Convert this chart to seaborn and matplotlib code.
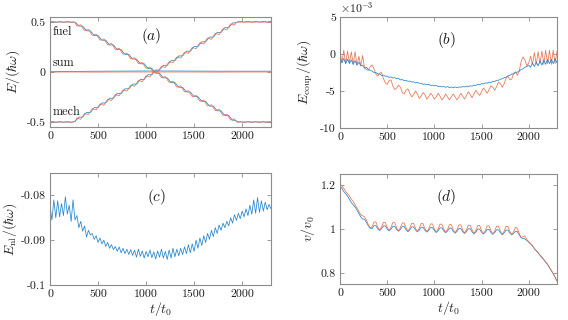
"""Four-panel energy / velocity figure, redrawn with seaborn."""
import matplotlib
matplotlib.use("Agg")
import numpy as np
import matplotlib.pyplot as plt
import seaborn as sns

# ---------------------------------------------------------------- data
t_grid = [
    0, 20, 40, 60, 80, 100, 120, 140, 160, 180,
    200, 220, 240, 260, 280, 300, 320, 340, 360, 380,
    400, 420, 440, 460, 480, 500, 520, 540, 560, 580,
    600, 620, 640, 660, 680, 700, 720, 740, 760, 780,
    800, 820, 840, 860, 880, 900, 920, 940, 960, 980,
    1000, 1020, 1040, 1060, 1080, 1100, 1120, 1140, 1160, 1180,
    1200, 1220, 1240, 1260, 1280, 1300, 1320, 1340, 1360, 1380,
    1400, 1420, 1440, 1460, 1480, 1500, 1520, 1540, 1560, 1580,
    1600, 1620, 1640, 1660, 1680, 1700, 1720, 1740, 1760, 1780,
    1800, 1820, 1840, 1860, 1880, 1900, 1920, 1940, 1960, 1980,
    2000, 2020, 2040, 2060, 2080, 2100, 2120, 2140, 2160, 2180,
    2200, 2220, 2240, 2260, 2280, 2300,
]

# (a) fuel / mech energies, blue and orange runs
fuel_blue = [
    0.500, 0.503, 0.500, 0.497, 0.500, 0.503, 0.500, 0.497, 0.500, 0.503,
    0.500, 0.497, 0.499, 0.498, 0.482, 0.459, 0.459, 0.459, 0.435, 0.412,
    0.412, 0.412, 0.388, 0.364, 0.365, 0.365, 0.341, 0.317, 0.318, 0.318,
    0.294, 0.270, 0.271, 0.271, 0.247, 0.223, 0.224, 0.224, 0.200, 0.176,
    0.176, 0.177, 0.153, 0.129, 0.129, 0.130, 0.106, 0.082, 0.082, 0.083,
    0.059, 0.035, 0.035, 0.036, 0.012, -0.012, -0.012, -0.012, -0.035, -0.059,
    -0.059, -0.059, -0.082, -0.106, -0.106, -0.106, -0.129, -0.153, -0.153, -0.153,
    -0.176, -0.200, -0.200, -0.200, -0.224, -0.247, -0.247, -0.247, -0.271, -0.294,
    -0.294, -0.294, -0.318, -0.341, -0.341, -0.341, -0.365, -0.388, -0.388, -0.388,
    -0.412, -0.436, -0.435, -0.435, -0.459, -0.483, -0.482, -0.490, -0.500, -0.497,
    -0.500, -0.503, -0.500, -0.497, -0.500, -0.503, -0.500, -0.497, -0.500, -0.503,
    -0.500, -0.497, -0.500, -0.503, -0.500, -0.497,
]
fuel_orange = [
    0.500, 0.498, 0.503, 0.499, 0.500, 0.498, 0.503, 0.499, 0.500, 0.498,
    0.503, 0.499, 0.500, 0.496, 0.460, 0.467, 0.473, 0.443, 0.413, 0.420,
    0.426, 0.396, 0.366, 0.372, 0.379, 0.349, 0.319, 0.325, 0.332, 0.302,
    0.272, 0.278, 0.285, 0.255, 0.225, 0.231, 0.238, 0.208, 0.178, 0.184,
    0.190, 0.161, 0.131, 0.137, 0.143, 0.114, 0.084, 0.090, 0.096, 0.067,
    0.037, 0.043, 0.049, 0.020, -0.010, -0.004, 0.002, -0.028, -0.057, -0.051,
    -0.045, -0.075, -0.104, -0.098, -0.092, -0.122, -0.151, -0.145, -0.139, -0.169,
    -0.198, -0.192, -0.186, -0.216, -0.246, -0.239, -0.233, -0.263, -0.293, -0.286,
    -0.280, -0.310, -0.340, -0.333, -0.327, -0.357, -0.387, -0.380, -0.374, -0.404,
    -0.434, -0.428, -0.421, -0.451, -0.481, -0.475, -0.468, -0.498, -0.502, -0.498,
    -0.503, -0.497, -0.502, -0.498, -0.503, -0.497, -0.502, -0.498, -0.503, -0.497,
    -0.502, -0.498, -0.503, -0.497, -0.502, -0.498,
]
mech_blue = [
    -0.500, -0.497, -0.500, -0.503, -0.500, -0.497, -0.500, -0.503, -0.500, -0.497,
    -0.500, -0.503, -0.499, -0.496, -0.474, -0.451, -0.451, -0.451, -0.427, -0.404,
    -0.404, -0.404, -0.380, -0.356, -0.357, -0.357, -0.333, -0.309, -0.310, -0.310,
    -0.286, -0.262, -0.263, -0.263, -0.239, -0.215, -0.216, -0.216, -0.192, -0.168,
    -0.168, -0.169, -0.145, -0.121, -0.121, -0.122, -0.098, -0.074, -0.074, -0.075,
    -0.051, -0.027, -0.027, -0.028, -0.004, 0.020, 0.020, 0.020, 0.043, 0.067,
    0.067, 0.067, 0.090, 0.114, 0.114, 0.114, 0.137, 0.161, 0.161, 0.161,
    0.184, 0.208, 0.208, 0.208, 0.232, 0.255, 0.255, 0.255, 0.279, 0.302,
    0.302, 0.302, 0.326, 0.349, 0.349, 0.349, 0.373, 0.396, 0.396, 0.396,
    0.420, 0.444, 0.443, 0.443, 0.467, 0.491, 0.490, 0.495, 0.502, 0.505,
    0.502, 0.499, 0.502, 0.505, 0.502, 0.499, 0.502, 0.505, 0.502, 0.499,
    0.502, 0.505, 0.502, 0.499, 0.502, 0.505,
]
mech_orange = [
    -0.500, -0.503, -0.498, -0.502, -0.500, -0.503, -0.498, -0.502, -0.500, -0.503,
    -0.498, -0.502, -0.500, -0.496, -0.460, -0.467, -0.473, -0.443, -0.413, -0.420,
    -0.426, -0.396, -0.366, -0.372, -0.379, -0.349, -0.319, -0.325, -0.332, -0.302,
    -0.272, -0.278, -0.285, -0.255, -0.225, -0.231, -0.238, -0.208, -0.178, -0.184,
    -0.190, -0.161, -0.131, -0.137, -0.143, -0.114, -0.084, -0.090, -0.096, -0.067,
    -0.037, -0.043, -0.049, -0.020, 0.010, 0.004, -0.002, 0.028, 0.057, 0.051,
    0.045, 0.075, 0.104, 0.098, 0.092, 0.122, 0.151, 0.145, 0.139, 0.169,
    0.198, 0.192, 0.186, 0.216, 0.246, 0.239, 0.233, 0.263, 0.293, 0.286,
    0.280, 0.310, 0.340, 0.333, 0.327, 0.357, 0.387, 0.380, 0.374, 0.404,
    0.434, 0.428, 0.421, 0.451, 0.481, 0.475, 0.468, 0.498, 0.500, 0.498,
    0.502, 0.497, 0.501, 0.498, 0.502, 0.497, 0.501, 0.498, 0.502, 0.497,
    0.501, 0.498, 0.502, 0.497, 0.501, 0.498,
]
sum_t = [0, 250, 500, 750, 1000, 1250, 1500, 1750, 2000, 2300]
sum_blue = [0.002, 0.006, 0.008, 0.009, 0.010, 0.010, 0.009, 0.008, 0.008, 0.008]
sum_orange = [0.000, 0.000, -0.001, 0.000, 0.000, 0.000, 0.000, -0.001, 0.000, 0.000]

# (b) coupling energy, in units of 1e-3
coup_blue = [
    -0.5, -1.2, -0.6, -1.3, -0.7, -1.3, -0.8, -1.4, -0.9, -1.5,
    -1.1, -1.6, -1.5, -1.9, -1.8, -2.1, -2.2, -2.3, -2.5, -2.5,
    -2.7, -2.7, -2.9, -2.85, -3.0, -3.0, -3.15, -3.1, -3.25, -3.2,
    -3.35, -3.3, -3.5, -3.45, -3.6, -3.55, -3.7, -3.65, -3.8, -3.75,
    -3.9, -3.85, -3.95, -3.95, -4.1, -4.05, -4.15, -4.1, -4.25, -4.2,
    -4.3, -4.25, -4.4, -4.35, -4.45, -4.4, -4.5, -4.4, -4.55, -4.45,
    -4.55, -4.45, -4.55, -4.45, -4.5, -4.4, -4.45, -4.35, -4.4, -4.3,
    -4.35, -4.2, -4.25, -4.1, -4.15, -4.0, -4.05, -3.9, -3.95, -3.8,
    -3.85, -3.7, -3.7, -3.55, -3.55, -3.4, -3.35, -3.2, -3.15, -2.95,
    -2.9, -2.7, -2.7, -2.5, -2.45, -2.3, -2.1, -2.0, -1.8, -1.7,
    -1.5, -1.8, -1.2, -1.7, -1.1, -1.6, -0.9, -1.5, -0.8, -1.4,
    -0.7, -1.3, -0.7, -1.3, -0.6, -1.2,
]
coup_orange = [
    0.4, -1.2, 0.5, -1.3, 0.4, -1.2, 0.3, -1.4, 0.3, -1.5,
    -0.3, -1.6, -0.2, -1.9, -2.1, -2.2, -1.7, -1.5, -2.0, -2.7,
    -3.0, -2.6, -2.5, -3.3, -3.9, -4.1, -3.6, -3.5, -4.3, -4.8,
    -4.6, -4.2, -4.5, -5.2, -5.4, -4.9, -4.7, -5.3, -5.8, -5.5,
    -5.0, -5.4, -6.0, -5.7, -5.2, -5.5, -6.1, -5.8, -5.3, -5.6,
    -6.1, -5.8, -5.3, -5.7, -6.2, -5.9, -5.4, -5.8, -6.2, -5.8,
    -5.4, -5.8, -6.2, -5.8, -5.3, -5.7, -6.1, -5.6, -5.1, -5.5,
    -5.9, -5.4, -4.9, -5.3, -5.6, -5.1, -4.6, -4.9, -5.3, -4.8,
    -4.3, -4.5, -4.9, -4.4, -3.8, -4.0, -4.5, -4.0, -3.3, -3.0,
    -3.5, -3.4, -2.6, -2.4, -2.9, -2.3, -1.0, -0.4, -0.8, -1.6,
    -1.2, -0.3, -1.4, 0.2, -1.4, 0.3, -1.3, 0.4, -1.4, 0.5,
    -1.3, 0.5, -1.4, 0.5, -1.3, 0.4,
]

# (c) nonlinear energy
nl_blue = [
    -0.0825, -0.0855, -0.0810, -0.0850, -0.0812, -0.0848, -0.0818, -0.0845, -0.0803, -0.0842,
    -0.0822, -0.0858, -0.0810, -0.0855, -0.0845, -0.0872, -0.0858, -0.0880, -0.0868, -0.0893,
    -0.0878, -0.0888, -0.0885, -0.0898, -0.0890, -0.0905, -0.0895, -0.0908, -0.0900, -0.0914,
    -0.0905, -0.0918, -0.0910, -0.0921, -0.0914, -0.0925, -0.0915, -0.0928, -0.0918, -0.0930,
    -0.0920, -0.0932, -0.0921, -0.0934, -0.0922, -0.0938, -0.0920, -0.0936, -0.0924, -0.0940,
    -0.0925, -0.0937, -0.0922, -0.0939, -0.0926, -0.0942, -0.0924, -0.0938, -0.0920, -0.0940,
    -0.0925, -0.0943, -0.0922, -0.0940, -0.0918, -0.0937, -0.0920, -0.0935, -0.0918, -0.0932,
    -0.0915, -0.0930, -0.0910, -0.0928, -0.0908, -0.0925, -0.0900, -0.0918, -0.0895, -0.0912,
    -0.0890, -0.0905, -0.0885, -0.0898, -0.0878, -0.0892, -0.0872, -0.0885, -0.0866, -0.0878,
    -0.0862, -0.0872, -0.0858, -0.0868, -0.0850, -0.0862, -0.0843, -0.0856, -0.0840, -0.0852,
    -0.0835, -0.0848, -0.0830, -0.0845, -0.0822, -0.0842, -0.0810, -0.0840, -0.0805, -0.0838,
    -0.0812, -0.0835, -0.0815, -0.0832, -0.0820, -0.0830,
]

# (d) velocity
vel_blue = [
    1.195, 1.185, 1.170, 1.160, 1.150, 1.135, 1.120, 1.110, 1.100, 1.085,
    1.070, 1.055, 1.045, 1.045, 1.030, 1.015, 1.003, 1.002, 1.015, 1.015,
    1.001, 0.993, 1.001, 1.014, 1.014, 1.000, 0.991, 0.999, 1.012, 1.012,
    0.998, 0.990, 0.998, 1.011, 1.011, 0.997, 0.988, 0.996, 1.010, 1.009,
    0.996, 0.987, 0.995, 1.008, 1.008, 0.994, 0.986, 0.994, 1.007, 1.006,
    0.993, 0.984, 0.992, 1.005, 1.005, 0.991, 0.983, 0.991, 1.004, 1.004,
    0.990, 0.981, 0.989, 1.002, 1.002, 0.988, 0.980, 0.988, 1.001, 1.001,
    0.987, 0.978, 0.986, 1.000, 0.999, 0.986, 0.977, 0.985, 0.998, 0.998,
    0.984, 0.976, 0.984, 0.997, 0.996, 0.983, 0.974, 0.982, 0.995, 0.995,
    0.981, 0.973, 0.980, 0.990, 0.988, 0.972, 0.960, 0.957, 0.955, 0.948,
    0.940, 0.932, 0.923, 0.910, 0.901, 0.891, 0.880, 0.870, 0.860, 0.849,
    0.838, 0.824, 0.810, 0.796, 0.780, 0.762,
]
vel_orange = [
    1.205, 1.195, 1.185, 1.170, 1.160, 1.150, 1.135, 1.125, 1.110, 1.095,
    1.080, 1.065, 1.060, 1.055, 1.040, 1.020, 1.005, 1.010, 1.032, 1.032,
    1.009, 0.995, 1.009, 1.030, 1.030, 1.007, 0.993, 1.007, 1.029, 1.029,
    1.006, 0.992, 1.005, 1.028, 1.027, 1.005, 0.990, 1.004, 1.026, 1.026,
    1.003, 0.989, 1.002, 1.025, 1.024, 1.002, 0.988, 1.001, 1.023, 1.023,
    1.000, 0.986, 1.000, 1.022, 1.022, 0.999, 0.985, 0.998, 1.020, 1.020,
    0.997, 0.983, 0.997, 1.019, 1.019, 0.996, 0.982, 0.995, 1.018, 1.017,
    0.995, 0.980, 0.994, 1.016, 1.016, 0.993, 0.979, 0.992, 1.015, 1.014,
    0.992, 0.978, 0.991, 1.013, 1.013, 0.990, 0.976, 0.990, 1.012, 1.011,
    0.989, 0.975, 0.988, 1.008, 1.002, 0.980, 0.962, 0.965, 0.968, 0.952,
    0.943, 0.934, 0.925, 0.912, 0.903, 0.893, 0.882, 0.872, 0.862, 0.851,
    0.840, 0.826, 0.812, 0.798, 0.782, 0.764,
]

x_ticks = [0, 500, 1000, 1500, 2000]

# ---------------------------------------------------------------- style
sns.set_theme(style="white")
plt.rcParams.update({
    "font.family": ["cmr10", "DejaVu Serif"],
    "mathtext.fontset": "cm",
    "axes.unicode_minus": False,
    "axes.formatter.use_mathtext": False,
    "axes.edgecolor": "#8c8c8c",
    "axes.linewidth": 0.8,
    "text.color": "#1a1a1a",
    "xtick.color": "#8c8c8c",
    "ytick.color": "#8c8c8c",
    "xtick.labelcolor": "#1a1a1a",
    "ytick.labelcolor": "#1a1a1a",
})

BLUE = "#2485d0"
ORANGE = "#e8734f"
LW = 0.55

W, H = 568, 320
fig = plt.figure(figsize=(W / 100, H / 100), dpi=100)


def px_axes(left, top, right, bottom):
    return fig.add_axes([left / W, 1 - bottom / H, (right - left) / W, (bottom - top) / H])


def line(ax, x, y, color):
    sns.lineplot(x=x, y=y, ax=ax, color=color, linewidth=LW, errorbar=None)


def style(ax, ylim, yticks, ylabels):
    ax.set_xlim(0, 2300)
    ax.set_ylim(*ylim)
    ax.set_xticks(x_ticks, labels=[str(v) for v in x_ticks])
    ax.set_yticks(yticks, labels=ylabels)
    ax.tick_params(direction="in", length=3, width=0.6, top=True, right=True,
                   bottom=True, left=True, labelsize=8.5, pad=3)
    for s in ax.spines.values():
        s.set_visible(True)


ax_a = px_axes(50, 17, 271, 127)
ax_b = px_axes(340, 17, 557, 128)
ax_c = px_axes(50, 173, 271, 285)
ax_d = px_axes(340, 174, 557, 284)

# (a)
line(ax_a, t_grid, fuel_blue, BLUE)
line(ax_a, t_grid, mech_blue, BLUE)
line(ax_a, sum_t, sum_blue, BLUE)
line(ax_a, t_grid, fuel_orange, ORANGE)
line(ax_a, t_grid, mech_orange, ORANGE)
line(ax_a, sum_t, sum_orange, ORANGE)
style(ax_a, (-0.55, 0.55), [-0.5, 0, 0.5], ["-0.5", "0", "0.5"])
ax_a.set_ylabel(r"$E/(\hbar\omega)$", fontsize=10)
ax_a.yaxis.set_label_coords(-0.125, 0.5)
for txt, yv in [("fuel", 0.40), ("sum", 0.095), ("mech", -0.40)]:
    ax_a.text(25, yv, txt, fontsize=8.8, va="center", ha="left")
ax_a.text(0.46, 0.83, r"$(a)$", transform=ax_a.transAxes, fontsize=11, ha="center", va="center")

# (b)
line(ax_b, t_grid, coup_orange, ORANGE)
line(ax_b, t_grid, coup_blue, BLUE)
style(ax_b, (-10, 5), [-10, -5, 0, 5], ["-10", "-5", "0", "5"])
ax_b.set_ylabel(r"$E_{\rm coup}/(\hbar\omega)$", fontsize=10)
ax_b.yaxis.set_label_coords(-0.115, 0.5)
ax_b.text(0.0, 1.02, r"$\times10^{-3}$", transform=ax_b.transAxes, fontsize=8.5, ha="left", va="bottom")
ax_b.text(0.49, 0.79, r"$(b)$", transform=ax_b.transAxes, fontsize=11, ha="center", va="center")

# (c)
line(ax_c, t_grid, nl_blue, BLUE)
style(ax_c, (-0.1, -0.075), [-0.1, -0.09, -0.08], ["-0.1", "-0.09", "-0.08"])
ax_c.set_ylabel(r"$E_{\rm nl}/(\hbar\omega)$", fontsize=10)
ax_c.yaxis.set_label_coords(-0.14, 0.5)
ax_c.set_xlabel(r"$t/t_0$", fontsize=10, labelpad=1)
ax_c.text(0.48, 0.79, r"$(c)$", transform=ax_c.transAxes, fontsize=11, ha="center", va="center")

# (d)
line(ax_d, t_grid, vel_blue, BLUE)
line(ax_d, t_grid, vel_orange, ORANGE)
style(ax_d, (0.75, 1.25), [0.8, 1.0, 1.2], ["0.8", "1", "1.2"])
ax_d.set_ylabel(r"$v/v_0$", fontsize=10)
ax_d.yaxis.set_label_coords(-0.107, 0.5)
ax_d.set_xlabel(r"$t/t_0$", fontsize=10, labelpad=1)
ax_d.text(0.49, 0.79, r"$(d)$", transform=ax_d.transAxes, fontsize=11, ha="center", va="center")

fig.savefig("out.png", dpi=100)
